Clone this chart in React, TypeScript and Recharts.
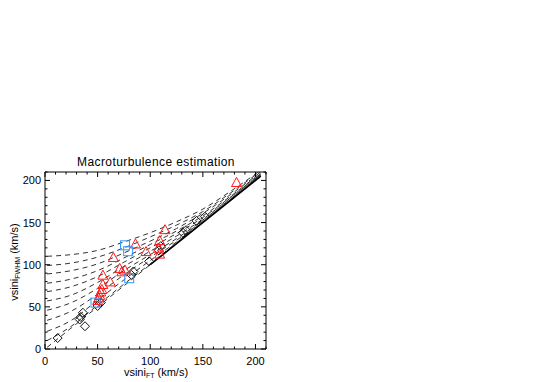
import { ComposedChart, Line, Scatter, XAxis, YAxis, Label } from 'recharts';

const TICKS = [0, 10, 20, 30, 40, 50, 60, 70, 80, 90, 100, 110, 120, 130, 140, 150, 160, 170, 180, 190, 200, 210];

// macroturbulence curves, sampled at CURVE_X
const CURVE_X = [2, 25, 50, 75, 100, 125, 150, 175, 205];
const CURVE_Y = [
  [110, 112, 117, 127, 138, 151, 166, 186, 212],
  [99, 102, 109, 120, 133, 147, 163, 184, 211],
  [89, 93, 101, 114, 128, 143, 161, 182, 210],
  [78, 83, 93, 108, 124, 140, 158, 180, 209],
  [68, 74, 86, 103, 120, 137, 156, 179, 208],
  [57, 64, 79, 98, 116, 134, 154, 178, 207.5],
  [46, 55, 72, 93, 112, 131, 153, 177, 207],
  [34, 45, 65, 88, 109, 129, 152, 176, 206.5],
  [21, 34, 58, 82, 105, 127, 151, 176, 206],
  [10, 27, 52, 77, 101, 126, 150.5, 175.5, 205.5],
  [2, 25, 50, 75, 100, 125, 150, 175, 205],
];
const SOLID_X = [100, 205];
const SOLID_Y = [100, 205];

const DIAMOND_X = [12, 33, 34, 36, 38, 50, 53, 82, 84, 99, 108, 110, 131, 134, 144, 152];
const DIAMOND_Y = [13, 35, 38, 43, 27, 51, 55, 88, 92, 104, 117, 122, 138, 141, 152, 157];

const TRIANGLE_X = [182, 114, 86, 109, 108, 109, 96, 65, 71, 76, 73, 55, 62, 55, 54, 53, 52, 51, 50];
const TRIANGLE_Y = [197, 141, 124, 128, 119, 112, 115, 108, 95, 93, 91, 87, 79, 76, 70, 67, 63, 60, 57];

const SQUARE_X = [76, 79, 80, 48];
const SQUARE_Y = [123, 116, 84, 55];

const FONT = '"Liberation Sans", Arial, sans-serif';

const pts = (xs: number[], ys: number[]) => xs.map((x, i) => ({ x, y: ys[i] }));

const isMajor = (v: number) => v % 50 === 0;

function BottomTick({ x, y, payload }: any) {
  const v = payload.value;
  return (
    <g>
      <line x1={x} y1={y} x2={x} y2={y - (isMajor(v) ? 5 : 2.5)} stroke="#000" />
      {isMajor(v) && v <= 200 && (
        <text x={x} y={y + 16} textAnchor="middle" fontSize={11} fontFamily={FONT} fill="#000">
          {v}
        </text>
      )}
    </g>
  );
}

function TopTick({ x, y, payload }: any) {
  const v = payload.value;
  return <line x1={x} y1={y} x2={x} y2={y + (isMajor(v) ? 5 : 2.5)} stroke="#000" />;
}

function LeftTick({ x, y, payload }: any) {
  const v = payload.value;
  return (
    <g>
      <line x1={x} y1={y} x2={x + (isMajor(v) ? 5 : 2.5)} y2={y} stroke="#000" />
      {isMajor(v) && v <= 200 && (
        <text x={x - 4} y={y + 4} textAnchor="end" fontSize={11} fontFamily={FONT} fill="#000">
          {v}
        </text>
      )}
    </g>
  );
}

function RightTick({ x, y, payload }: any) {
  const v = payload.value;
  return <line x1={x} y1={y} x2={x - (isMajor(v) ? 5 : 2.5)} y2={y} stroke="#000" />;
}

const Triangle = ({ cx, cy }: any) => (
  <path d={`M${cx},${cy - 5.5}L${cx + 5},${cy + 3.5}L${cx - 5},${cy + 3.5}Z`} fill="none" stroke="#ff1a1a" />
);
const Diamond = ({ cx, cy }: any) => (
  <path d={`M${cx},${cy - 4.5}L${cx + 4.5},${cy}L${cx},${cy + 4.5}L${cx - 4.5},${cy}Z`} fill="none" stroke="#111" />
);
const Square = ({ cx, cy }: any) => (
  <rect x={cx - 4.5} y={cy - 4.5} width={9} height={9} fill="none" stroke="#3399ff" />
);

const Title = () => (
  <text x={156} y={166} textAnchor="middle" fontSize={12} letterSpacing={0.4} fontFamily={FONT} fill="#000">
    Macroturbulence estimation
  </text>
);

const XTitle = () => (
  <text x={156} y={376} textAnchor="middle" fontSize={11} fontFamily={FONT} fill="#000">
    vsini<tspan fontSize={7} dy={2}>FT</tspan>
    <tspan dy={-2}> (km/s)</tspan>
  </text>
);

const YTitle = () => (
  <text
    x={18}
    y={262}
    transform="rotate(-90, 18, 262)"
    textAnchor="middle"
    fontSize={11}
    fontFamily={FONT}
    fill="#000"
  >
    vsini<tspan fontSize={7} dy={2}>FWHM</tspan>
    <tspan dy={-2}> (km/s)</tspan>
  </text>
);

export default function App() {
  return (
    <div style={{ position: 'absolute', left: 0, top: 0, width: 554, height: 382, background: '#fff' }}>
      <ComposedChart width={554} height={382} margin={{ top: 162, right: 278, bottom: 8, left: 15 }}>
        <XAxis
          dataKey="x"
          type="number"
          domain={[0, 210]}
          ticks={TICKS}
          interval={0}
          allowDataOverflow
          tickSize={0}
          tickMargin={0}
          tickLine={false}
          height={25}
          stroke="#000"
          tick={BottomTick}
        >
          <Label content={XTitle} />
        </XAxis>
        <XAxis
          xAxisId="top"
          orientation="top"
          dataKey="x"
          type="number"
          domain={[0, 210]}
          ticks={TICKS}
          interval={0}
          allowDataOverflow
          tickSize={0}
          tickMargin={0}
          tickLine={false}
          height={10}
          stroke="#000"
          tick={TopTick}
        >
          <Label content={Title} />
        </XAxis>
        <YAxis
          dataKey="y"
          type="number"
          domain={[0, 210]}
          ticks={TICKS}
          interval={0}
          allowDataOverflow
          tickSize={0}
          tickMargin={0}
          tickLine={false}
          width={30}
          stroke="#000"
          tick={LeftTick}
        >
          <Label content={YTitle} />
        </YAxis>
        <YAxis
          yAxisId="right"
          orientation="right"
          dataKey="y"
          type="number"
          domain={[0, 210]}
          ticks={TICKS}
          interval={0}
          allowDataOverflow
          tickSize={0}
          tickMargin={0}
          tickLine={false}
          width={10}
          stroke="#000"
          tick={RightTick}
        />
        {CURVE_Y.map((ys, i) => (
          <Line
            key={i}
            data={pts(CURVE_X, ys)}
            dataKey="y"
            type="monotone"
            stroke="#333"
            strokeWidth={1}
            strokeDasharray="5 4"
            dot={false}
            activeDot={false}
            isAnimationActive={false}
          />
        ))}
        <Line
          data={pts(SOLID_X, SOLID_Y)}
          dataKey="y"
          type="linear"
          stroke="#000"
          strokeWidth={1.6}
          dot={false}
          activeDot={false}
          isAnimationActive={false}
        />
        <Scatter data={pts(DIAMOND_X, DIAMOND_Y)} shape={Diamond} isAnimationActive={false} />
        <Scatter data={pts(TRIANGLE_X, TRIANGLE_Y)} shape={Triangle} isAnimationActive={false} />
        <Scatter data={pts(SQUARE_X, SQUARE_Y)} shape={Square} isAnimationActive={false} />
      </ComposedChart>
    </div>
  );
}
